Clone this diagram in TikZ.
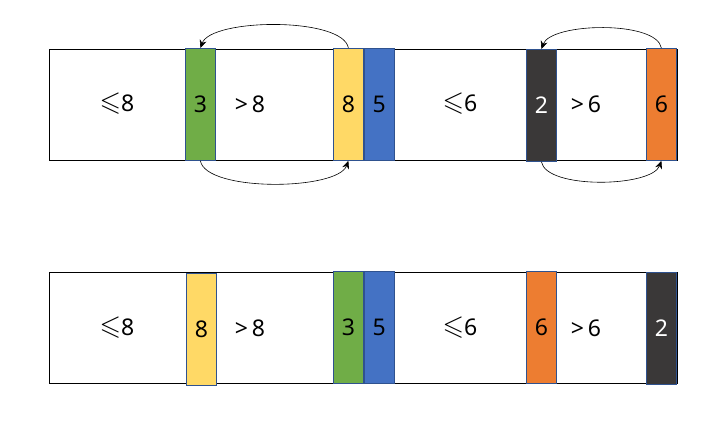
\documentclass[tikz,border=0pt]{standalone}
\usepackage{amssymb}
\usepackage{graphicx}
\usepackage{fontspec}
\setmainfont{Noto Sans}
\usetikzlibrary{arrows.meta}
\usetikzlibrary{positioning}

\definecolor{barline}{HTML}{2F528F}
\definecolor{cgreen}{HTML}{70AD47}
\definecolor{cyellow}{HTML}{FFD966}
\definecolor{cblue}{HTML}{4472C4}
\definecolor{cdark}{HTML}{3A3838}
\definecolor{corange}{HTML}{ED7D31}

\newcommand{\lesl}{\raisebox{0.5pt}{\scalebox{1.2}{$\leqslant$}}}

\begin{document}
\begin{tikzpicture}[x=1pt, y=-1pt,
                every node/.style = {font=\fontsize{23}{27}\selectfont},
                row/.style = {draw, line width=0.9pt, minimum width=628pt, minimum height=111pt, inner sep=0pt, anchor=north west},
                bar/.style = {draw=barline, line width=0.8pt, minimum width=30pt, minimum height=112pt, inner sep=0pt, anchor=north west},
                move/.style = {-{Stealth[length=8pt,width=7pt]}, line width=0.6pt}]
            \useasboundingbox (0,0) rectangle (717,435);

            % before the swaps
            \node[row] (t_row) at (49,49) {};
            \node (t_le8) at (117,104) {\lesl8};
            \node (t_gt8) at (250,104) {>\,8};
            \node (t_le6) at (460,104) {\lesl6};
            \node (t_gt6) at (586,104) {>\,6};
            \node[bar, fill=cgreen] (t_three) at (185,48) {3};
            \node[bar, fill=cyellow] (t_eight) at (333,48) {8};
            \node[bar, fill=cblue, right = 0pt of t_eight] (t_five) {5};
            \node[bar, fill=cdark, text=white] (t_two) at (526,49) {2};
            \node[bar, fill=corange] (t_six) at (646,48) {6};

            \draw[move] (t_eight.north) to[out=100, in=70, looseness=0.55] (t_three.north);
            \draw[move] (t_three.south) to[out=-80, in=-110, looseness=0.55] (t_eight.south);
            \draw[move] (t_six.north) to[out=100, in=70, looseness=0.6] (t_two.north);
            \draw[move] (t_two.south) to[out=-80, in=-110, looseness=0.6] (t_six.south);

            % after the swaps
            \node[row] (b_row) at (49,272) {};
            \node (b_le8) at (117,328) {\lesl8};
            \node (b_gt8) at (250,328) {>\,8};
            \node (b_le6) at (460,328) {\lesl6};
            \node (b_gt6) at (586,328) {>\,6};
            \node[bar, fill=cyellow] (b_eight) at (186,273) {8};
            \node[bar, fill=cgreen] (b_three) at (333,271) {3};
            \node[bar, fill=cblue, right = 0pt of b_three] (b_five) {5};
            \node[bar, fill=corange] (b_six) at (526,271) {6};
            \node[bar, fill=cdark, text=white] (b_two) at (646,272) {2};
        \end{tikzpicture}
\end{document}
